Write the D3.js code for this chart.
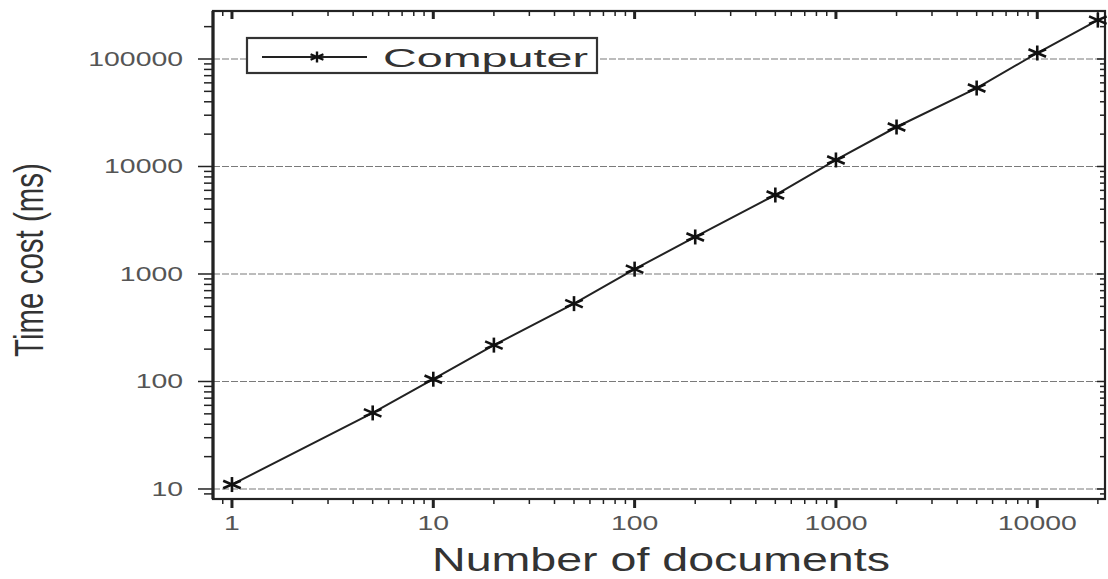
<!DOCTYPE html>
<html>
<head>
<meta charset="utf-8">
<script src="https://cdn.jsdelivr.net/npm/d3@7"></script>
<style>
  html, body { margin: 0; padding: 0; background: #fff; }
  svg { display: block; font-family: "Liberation Sans", Arial, sans-serif; }
</style>
</head>
<body>
<svg id="chart" width="1108" height="579"></svg>
<script>
// Number of documents processed and the measured time cost (ms)
const documents = [1, 5, 10, 20, 50, 100, 200, 500, 1000, 2000, 5000, 10000, 20000];
const timeCost  = [11, 51, 105, 218, 530, 1110, 2210, 5430, 11500, 23300, 53700, 113700, 230000];
const seriesName = "Computer";
const xTickValues = [1, 10, 100, 1000, 10000];
const yTickValues = [10, 100, 1000, 10000, 100000];

const svg = d3.select("#chart");
const frame = { left: 213, right: 1105, top: 11, bottom: 499 };
const stretch = 1.42; // glyphs are drawn wide

const x = d3.scaleLog().domain([0.805, 21700]).range([frame.left, frame.right]);
const y = d3.scaleLog().domain([8.07, 279600]).range([frame.bottom, frame.top]);

// minor ticks: 2..9 in each decade inside the domain
function minorTicks(scale) {
  const [a, b] = scale.domain();
  const out = [];
  for (let e = Math.floor(Math.log10(a)); e <= Math.ceil(Math.log10(b)); e++) {
    for (let m = 1; m <= 9; m++) {
      const v = m * Math.pow(10, e);
      if (v >= a && v <= b) out.push({ v, major: m === 1 });
    }
  }
  return out;
}

// horizontal dashed grid at each decade
svg.append("g").selectAll("line").data(yTickValues).join("line")
  .attr("x1", frame.left).attr("x2", frame.right)
  .attr("y1", d => y(d)).attr("y2", d => y(d))
  .attr("stroke", "#7a7a7a").attr("stroke-width", 1.2)
  .attr("stroke-dasharray", "7,2");

// ticks: outward on left/bottom, inward on top/right
const yt = minorTicks(y), xt = minorTicks(x);
const tickG = svg.append("g").attr("stroke", "#222").attr("stroke-width", 1.5);
tickG.selectAll(".yl").data(yt).join("line")
  .attr("x1", d => frame.left - (d.major ? 15 : 9)).attr("x2", frame.left)
  .attr("y1", d => y(d.v)).attr("y2", d => y(d.v));
tickG.selectAll(".yr").data(yt).join("line")
  .attr("x1", d => frame.right - (d.major ? 8 : 5)).attr("x2", frame.right)
  .attr("y1", d => y(d.v)).attr("y2", d => y(d.v));
tickG.selectAll(".xb").data(xt).join("line")
  .attr("x1", d => x(d.v)).attr("x2", d => x(d.v))
  .attr("y1", frame.bottom).attr("y2", d => frame.bottom + (d.major ? 9 : 5))
  .attr("stroke-width", d => d.major ? 3 : 1.5);
tickG.selectAll(".xt").data(xt).join("line")
  .attr("x1", d => x(d.v)).attr("x2", d => x(d.v))
  .attr("y1", frame.top).attr("y2", d => frame.top + (d.major ? 8 : 5))
  .attr("stroke-width", d => d.major ? 3 : 1.5);

// frame
svg.append("rect")
  .attr("x", frame.left).attr("y", frame.top)
  .attr("width", frame.right - frame.left).attr("height", frame.bottom - frame.top)
  .attr("fill", "none").attr("stroke", "#222").attr("stroke-width", 2.2);
svg.append("line")
  .attr("x1", frame.left).attr("x2", frame.left)
  .attr("y1", frame.top).attr("y2", frame.bottom)
  .attr("stroke", "#222").attr("stroke-width", 3.2);

// tick labels
svg.append("g").selectAll("g").data(yTickValues).join("g")
  .attr("transform", d => `translate(183,${y(d) + 7}) scale(${stretch},1)`)
  .append("text")
  .attr("text-anchor", "end").attr("font-size", 20).attr("fill", "#555")
  .text(d => d);
svg.append("g").selectAll("g").data(xTickValues).join("g")
  .attr("transform", d => `translate(${x(d)},530) scale(${stretch},1)`)
  .append("text")
  .attr("text-anchor", "middle").attr("font-size", 20).attr("fill", "#555")
  .text(d => d);

// axis titles
svg.append("g")
  .attr("transform", `translate(661,571) scale(1.39,1)`)
  .append("text").attr("text-anchor", "middle").attr("font-size", 33.5).attr("fill", "#333")
  .text("Number of documents");
svg.append("g")
  .attr("transform", `translate(43,260) scale(1.35,1) rotate(-90)`)
  .append("text").attr("text-anchor", "middle").attr("font-size", 29.5).attr("fill", "#333")
  .text("Time cost (ms)");

// star marker (asterisk), widened horizontally
function star(g, r) {
  const angles = [90, 30, 150];
  angles.forEach(a => {
    const t = a * Math.PI / 180;
    g.append("line")
      .attr("x1", -r * Math.cos(t) * 1.35).attr("y1", -r * Math.sin(t))
      .attr("x2",  r * Math.cos(t) * 1.35).attr("y2",  r * Math.sin(t));
  });
}

// series line
const pts = documents.map((d, i) => [d, timeCost[i]]);
svg.append("path").datum(pts)
  .attr("d", d3.line().x(d => x(d[0])).y(d => y(d[1])))
  .attr("fill", "none").attr("stroke", "#222").attr("stroke-width", 2);

svg.append("g").selectAll("g").data(pts).join("g")
  .attr("transform", d => `translate(${x(d[0])},${y(d[1])})`)
  .attr("stroke", "#111").attr("stroke-width", 2.6)
  .each(function () { star(d3.select(this), 7.5); });

// legend
const lg = svg.append("g");
lg.append("rect").attr("x", 247).attr("y", 38).attr("width", 350).attr("height", 35)
  .attr("fill", "#fff").attr("stroke", "#333").attr("stroke-width", 2.2);
lg.append("line").attr("x1", 262).attr("x2", 367).attr("y1", 57).attr("y2", 57)
  .attr("stroke", "#222").attr("stroke-width", 2);
const ls = lg.append("g").attr("transform", "translate(317,57)")
  .attr("stroke", "#111").attr("stroke-width", 2.4);
star(ls, 5.5);
lg.append("text").attr("x", 383).attr("y", 67).attr("font-size", 25).attr("fill", "#333")
  .attr("textLength", 205).attr("lengthAdjust", "spacingAndGlyphs")
  .text(seriesName);
</script>
</body>
</html>
